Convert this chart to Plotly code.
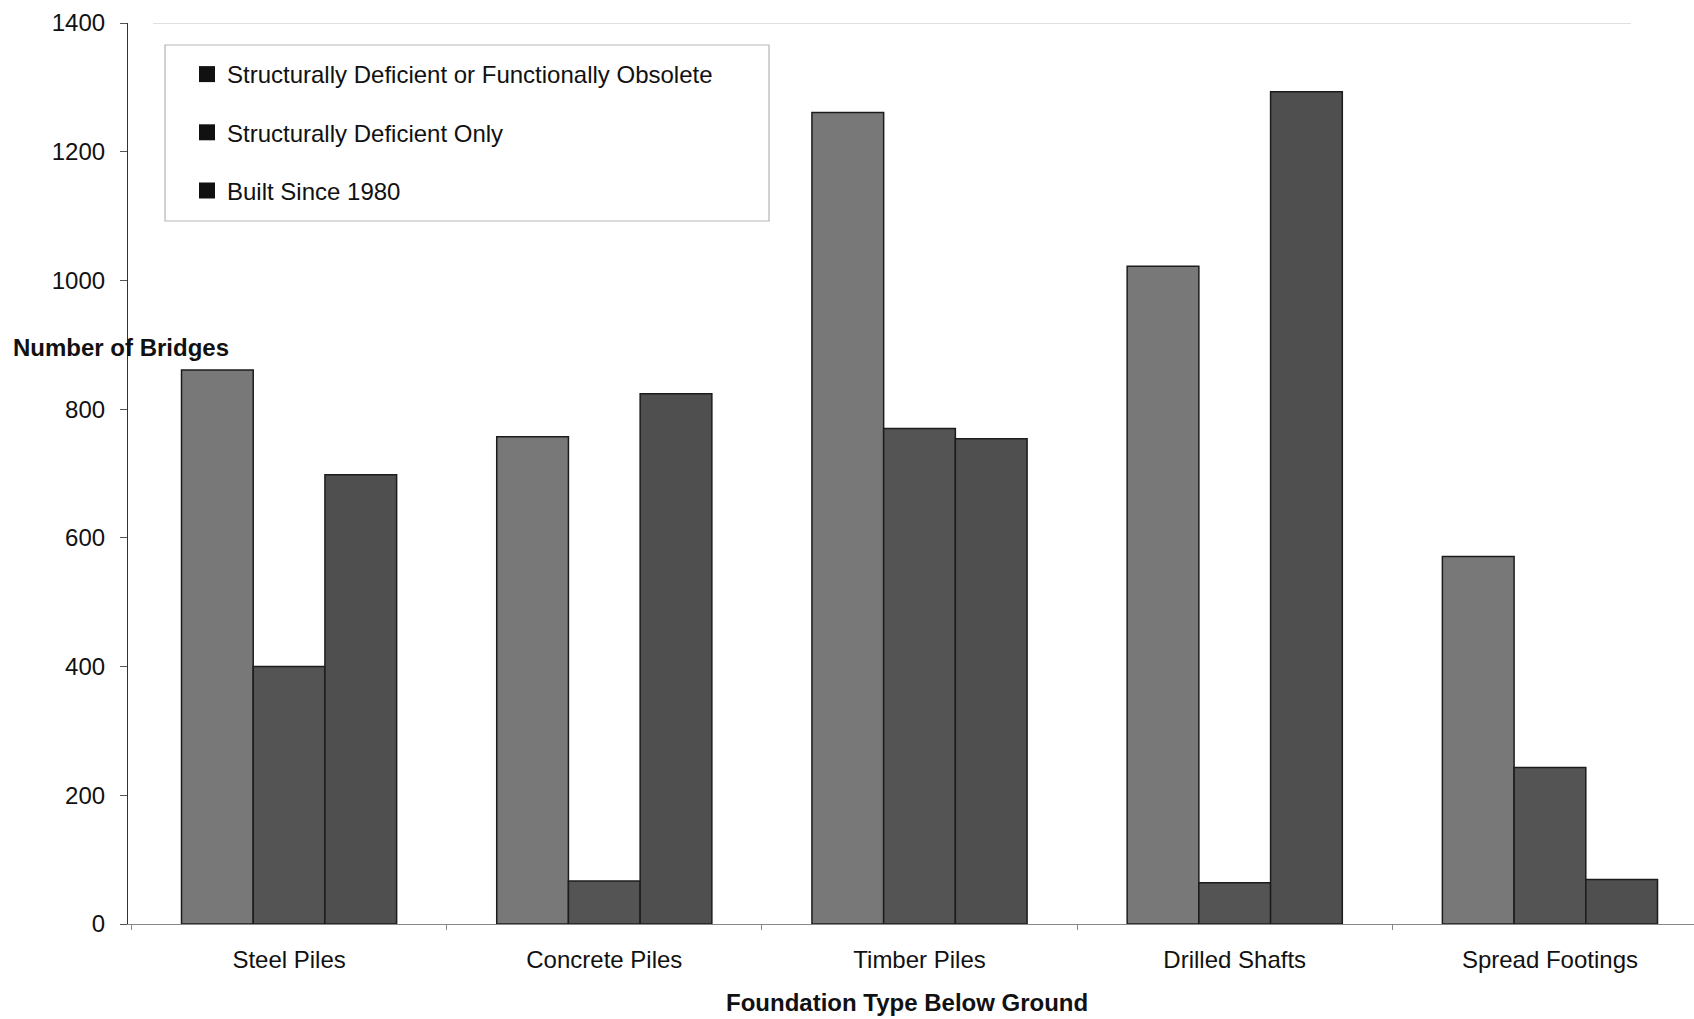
import plotly.graph_objects as go

categories = ["Steel Piles", "Concrete Piles", "Timber Piles", "Drilled Shafts", "Spread Footings"]
series_names = ["Structurally Deficient or Functionally Obsolete", "Structurally Deficient Only", "Built Since 1980"]
sd_or_fo = [861, 757, 1261, 1022, 571]
sd_only = [400, 67, 770, 64, 243]
built_since_1980 = [698, 824, 754, 1293, 69]
y_ticks = [0, 200, 400, 600, 800, 1000, 1200, 1400]

colors = ["#787878", "#545454", "#4f4f4f"]
FONT = "Liberation Sans, Arial, sans-serif"
FS = 24

fig = go.Figure()
for name, vals, col in zip(series_names, [sd_or_fo, sd_only, built_since_1980], colors):
    fig.add_trace(go.Bar(
        x=categories, y=vals, name=name, showlegend=False,
        marker=dict(color=col, line=dict(color="#1c1c1c", width=1.5)),
    ))
# legend entries with black square keys
for i, name in enumerate(series_names):
    fig.add_trace(go.Scatter(
        x=[None], y=[None], mode="markers", name=name, legendgroup=f"g{i}",
        marker=dict(symbol="square", color="#111111", size=18),
    ))

W, H = 1694, 1019
L, R, T, B = 128, 0, 23, 95
ph = H - T - B
pw = W - L - R

def py(pix):
    return (H - B - pix) / ph

def px(pix):
    return (pix - L) / pw

fig.update_layout(
    width=W, height=H,
    margin=dict(l=L, r=R, t=T, b=B, pad=0),
    paper_bgcolor="white", plot_bgcolor="white",
    font=dict(family=FONT, size=FS, color="#111111"),
    barmode="group", bargap=0.3175, bargroupgap=0,
    legend=dict(
        x=px(187), y=py(52), xanchor="left", yanchor="top",
        bgcolor="rgba(0,0,0,0)", borderwidth=0,
        font=dict(family=FONT, size=FS, color="#111111"),
        tracegroupgap=24, itemwidth=30,
    ),
    xaxis=dict(
        range=[-0.511, 4.457], showgrid=False, showline=True, linecolor="#888888", linewidth=1,
        ticks="outside", tickson="boundaries", ticklen=5, tickcolor="#888888",
        tickfont=dict(family=FONT, size=FS, color="#111111"), ticklabelstandoff=14,
        zeroline=False,
    ),
    yaxis=dict(
        range=[0, 1400], tickvals=y_ticks, showgrid=False, showline=True,
        linecolor="#333333", linewidth=1.2, ticks="outside", ticklen=7, tickcolor="#555555",
        tickfont=dict(family=FONT, size=FS, color="#111111"), zeroline=False,
        ticklabelstandoff=10,
    ),
    shapes=[
        dict(type="rect", xref="paper", yref="paper", x0=px(165), x1=px(769), y0=py(221), y1=py(45),
             line=dict(color="#b5b5b5", width=1.2), fillcolor="rgba(0,0,0,0)", layer="above"),
        dict(type="line", xref="paper", yref="y", x0=px(153), x1=px(1631), y0=1400, y1=1400,
             line=dict(color="#d5d5d5", width=1.5)),
    ],
    annotations=[
        dict(text="<b>Number of Bridges</b>", xref="paper", yref="paper", x=px(11), y=py(347),
             xanchor="left", yanchor="middle", showarrow=False,
             font=dict(family=FONT, size=FS, color="#111111")),
        dict(text="<b>Foundation Type Below Ground</b>", xref="paper", yref="paper", x=px(907), y=py(1003),
             xanchor="center", yanchor="middle", showarrow=False,
             font=dict(family=FONT, size=FS, color="#111111")),
    ],
)

fig.write_html("out.html", config={"displayModeBar": False},
               post_script="document.body.style.margin='0';document.body.style.overflow='hidden';")
